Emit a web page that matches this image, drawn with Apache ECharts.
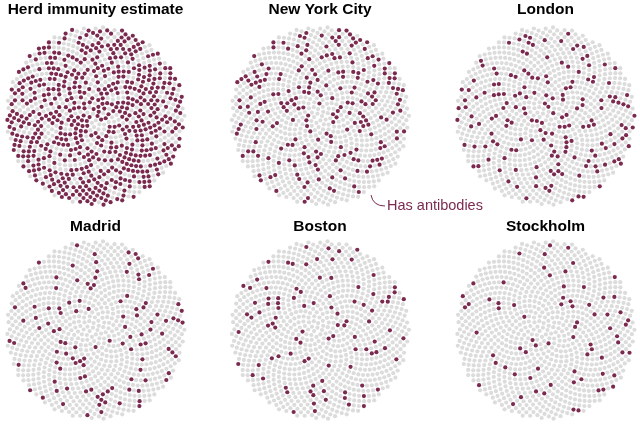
<!DOCTYPE html>
<html>
<head>
<meta charset="utf-8">
<script src="https://cdn.jsdelivr.net/npm/echarts@6/dist/echarts.min.js"></script>
<style>
html,body{margin:0;padding:0;background:#fff;}
#chart{width:640px;height:426px;}
</style>
</head>
<body>
<div id="chart"></div>
<script>
// ---- data ----
const places = ["Herd immunity estimate", "New York City", "London", "Madrid", "Boston", "Stockholm"];
const sharePct = [60, 22.7, 17.5, 11.3, 9.9, 7.3];   // % of people with antibodies
const dotsPerCircle = 1000;
const annotationText = "Has antibodies";

// ---- layout ----
const centersX = [95.5, 320, 545.5];
const centersY = [116, 330];
const R = 89.5;
const grey = "#dcdcdc", maroon = "#7b2a4f";
const font = "Liberation Sans";

const golden = Math.PI * (3 - Math.sqrt(5));
// fixed, scrambled fill order for the dots (integer mixing of the dot index)
function mix(i) {
  let h = Math.imul(i + 1, 0x9e3779b1);
  h ^= h >>> 16; h = Math.imul(h, 0x85ebca6b);
  h ^= h >>> 13; h = Math.imul(h, 0xc2b2ae35);
  h ^= h >>> 16;
  return (h >>> 0) / 4294967296;
}
// sunflower (phyllotaxis) unit-circle layout
const unitPts = [];
for (let i = 0; i < dotsPerCircle; i++) {
  const r = Math.sqrt((i + 0.5) / dotsPerCircle);
  const a = i * golden;
  unitPts.push({x: r * Math.cos(a), y: r * Math.sin(a)});
}

const grids = [], xAxes = [], yAxes = [], series = [], titles = [];
places.forEach((name, k) => {
  const cx = centersX[k % 3], cy = centersY[Math.floor(k / 3)];
  grids.push({left: cx - R, top: cy - R, width: 2 * R, height: 2 * R});
  xAxes.push({gridIndex: k, min: -1, max: 1, show: false});
  yAxes.push({gridIndex: k, min: -1, max: 1, show: false});
  const nColored = Math.round(sharePct[k] / 100 * dotsPerCircle);
  const ranked = unitPts.map((p, i) => i)
    .sort((a, b) => mix(a + 1013 * (k + 1)) - mix(b + 1013 * (k + 1)));
  const colored = new Set(ranked.slice(0, nColored));
  const g = [], m = [];
  unitPts.forEach((p, i) => (colored.has(i) ? m : g).push([p.x, p.y]));
  series.push({type: "scatter", xAxisIndex: k, yAxisIndex: k, data: g, symbolSize: 4.2,
    itemStyle: {color: grey, opacity: 1}, silent: true});
  series.push({type: "scatter", xAxisIndex: k, yAxisIndex: k, data: m, symbolSize: 4.2,
    itemStyle: {color: maroon, opacity: 1}, silent: true});
  titles.push({text: name, left: cx, top: (k < 3 ? 10 : 227), textAlign: "center", textVerticalAlign: "middle",
    padding: 0,
    textStyle: {fontFamily: font, fontWeight: "bold", fontSize: 15.5, color: "#000"}});
});

const chart = echarts.init(document.getElementById("chart"), null, {renderer: "canvas"});
chart.setOption({
  animation: false,
  backgroundColor: "#fff",
  title: titles,
  grid: grids,
  xAxis: xAxes,
  yAxis: yAxes,
  series: series,
  graphic: [
    {type: "bezierCurve", shape: {x1: 371, y1: 195, cpx1: 373, cpy1: 206, x2: 385, y2: 206},
     style: {stroke: maroon, fill: null, lineWidth: 1}},
    {type: "text", left: 387, top: 198,
     style: {text: annotationText, fill: maroon, font: "14.5px 'Liberation Sans'"}}
  ]
});
</script>
</body>
</html>
